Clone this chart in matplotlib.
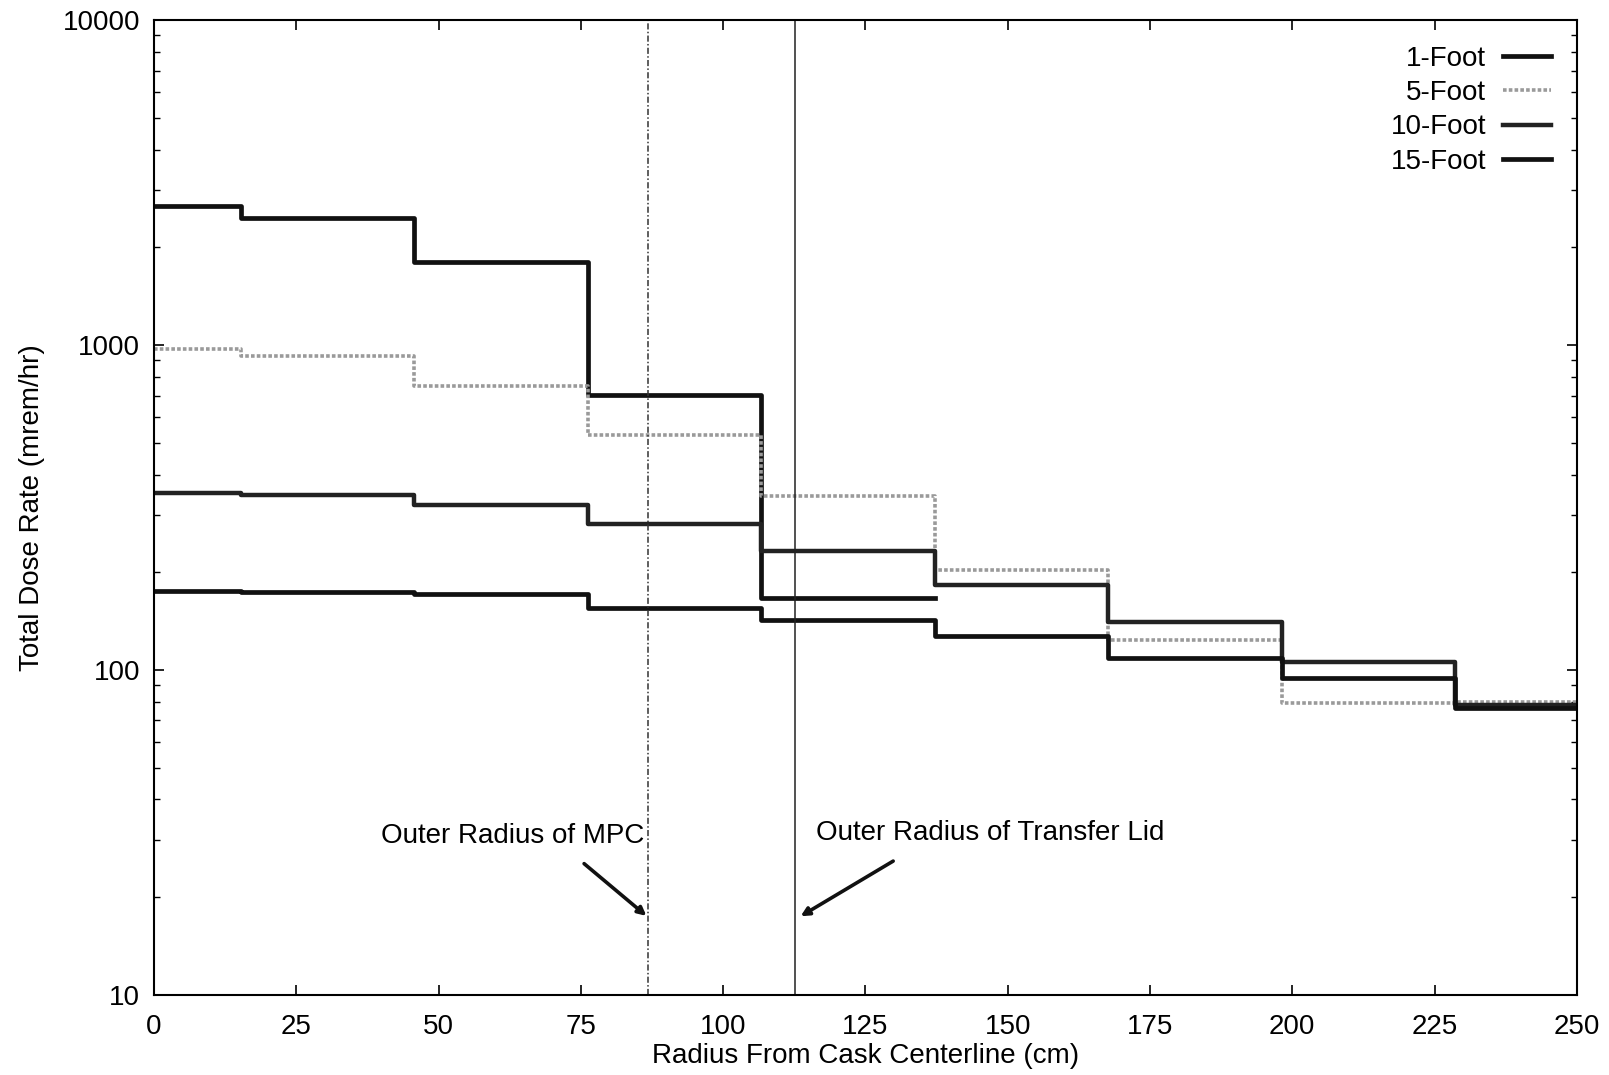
import matplotlib
matplotlib.use("Agg")
import matplotlib.pyplot as plt
from matplotlib.ticker import FixedLocator, LogLocator, NullFormatter

matplotlib.rcParams['font.family'] = ['Liberation Sans', 'DejaVu Sans']
matplotlib.rcParams['font.size'] = 19

# step boundaries along the radius (cm)
edges = [0, 15.24, 45.72, 76.2, 106.68, 137.16, 167.64, 198.12, 228.6, 250]

# dose rate in each radial bin (mrem/hr)
one_foot = [2680, 2470, 1810, 703, 167]
five_foot = [975, 927, 751, 530, 343, 203, 124, 79, 80]
ten_foot = [352, 346, 323, 281, 233, 183, 141, 106, 78]
fifteen_foot = [175, 174, 171, 155, 143, 127, 109, 94.6, 76.6]

labels = ['1-Foot', '5-Foot', '10-Foot', '15-Foot']
mpc_radius = 86.8
lid_radius = 112.7

fig = plt.figure(figsize=(16.09, 10.75), dpi=100)
ax = fig.add_axes([0.0957, 0.0744, 0.8843, 0.9066])


def steps(vals):
    x = edges[:len(vals) + 1]
    y = list(vals) + [vals[-1]]
    return x, y


x, y = steps(one_foot)
ax.step(x, y, where='post', color='#111111', lw=3.4, label=labels[0])
x, y = steps(five_foot)
ax.step(x, y, where='post', color='#9a9a9a', lw=2.6, ls=(0, (1, 0.6)), label=labels[1])
x, y = steps(ten_foot)
ax.step(x, y, where='post', color='#222222', lw=3.2, label=labels[2])
x, y = steps(fifteen_foot)
ax.step(x, y, where='post', color='#111111', lw=3.4, label=labels[3])

# marker lines for the two radii
ax.axvline(mpc_radius, color='#333333', lw=1.1, ls=(0, (4, 1.5, 1, 1.5)))
ax.axvline(lid_radius, color='#222222', lw=1.1)

ax.text(86.2, 30.9, 'Outer Radius of MPC', ha='right', va='center', fontsize=20)
ax.text(116.3, 31.5, 'Outer Radius of Transfer Lid', ha='left', va='center', fontsize=20)
arrow = dict(arrowstyle='-|>', color='#111111', lw=2.6, mutation_scale=12)
ax.annotate('', xy=(86.9, 17.3), xytext=(75.2, 25.7), arrowprops=arrow)
ax.annotate('', xy=(113.2, 17.3), xytext=(130.3, 26.1), arrowprops=arrow)

ax.set_yscale('log')
ax.set_xlim(0, 250)
ax.set_ylim(10, 10000)
ax.xaxis.set_major_locator(FixedLocator(list(range(0, 251, 25))))
ax.yaxis.set_major_locator(FixedLocator([10, 100, 1000, 10000]))
ax.yaxis.set_major_formatter(matplotlib.ticker.FuncFormatter(lambda v, p: '%d' % v))
ax.yaxis.set_minor_locator(LogLocator(base=10, subs=range(2, 10)))
ax.yaxis.set_minor_formatter(NullFormatter())
ax.tick_params(which='both', direction='in', top=True, right=True, labelsize=20)
ax.tick_params(which='major', length=7, width=1.2)
ax.tick_params(axis='x', which='major', pad=14)
ax.tick_params(axis='y', which='major', pad=10)
ax.tick_params(which='minor', length=4, width=1.0)
for s in ax.spines.values():
    s.set_linewidth(1.5)

ax.set_xlabel('Radius From Cask Centerline (cm)', fontsize=20, labelpad=2)
ax.set_ylabel('Total Dose Rate (mrem/hr)', fontsize=20, labelpad=13)

ax.legend(loc='upper right', frameon=False, markerfirst=False, fontsize=20,
          handlelength=1.75, handletextpad=0.6, labelspacing=0.3,
          borderpad=0, borderaxespad=0, bbox_to_anchor=(0.982, 0.974))

fig.savefig('out.png', dpi=100)
